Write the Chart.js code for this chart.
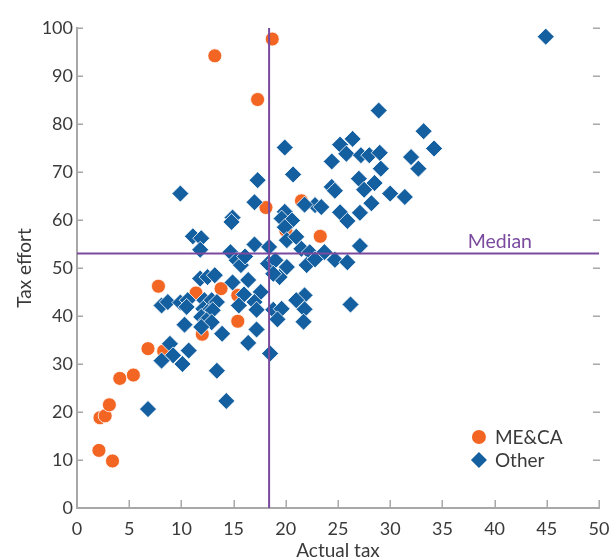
<!DOCTYPE html>
<html>
<head>
<meta charset="utf-8">
<script src="https://cdn.jsdelivr.net/npm/chart.js@4.4.1/dist/chart.umd.min.js"></script>
<style>
  html, body { margin: 0; padding: 0; background: #ffffff; }
  #wrap { width: 609px; height: 558px; }
</style>
</head>
<body>
<div id="wrap"><canvas id="c" width="609" height="558"></canvas></div>
<script>
// Series labels
const seriesNames = ['ME&CA', 'Other'];

// [actual tax, tax effort] for Middle East & Central Asia economies
const mecaPoints = [
  [2.1, 12.0], [3.4, 9.8], [2.2, 18.8], [2.7, 19.2], [3.1, 21.5], [4.1, 27.0],
  [5.4, 27.7], [6.8, 33.2], [8.3, 32.7], [7.8, 46.2], [11.4, 44.8], [12.0, 36.2],
  [13.8, 45.7], [15.4, 44.3], [15.4, 38.9], [13.2, 94.2], [17.3, 85.1], [18.7, 97.7],
  [18.1, 62.6], [20.0, 57.8], [21.5, 64.0], [23.3, 56.6]
];

// [actual tax, tax effort] for all other economies
const otherPoints = [
  [44.9, 98.2],
  [28.9, 82.8], [33.2, 78.5], [34.2, 74.9], [26.4, 76.9], [25.2, 75.7], [25.8, 73.8],
  [24.4, 72.2], [27.2, 73.5], [28.0, 73.5], [29.0, 74.0], [29.1, 70.7], [32.0, 73.1],
  [32.7, 70.7], [27.0, 68.6], [28.5, 67.7], [27.5, 66.3], [24.4, 66.9], [24.7, 66.1],
  [30.0, 65.5], [31.4, 64.8], [28.2, 63.5], [27.1, 61.5], [25.2, 61.6], [25.9, 59.8],
  [27.1, 54.6], [22.8, 63.1], [23.4, 62.7], [21.8, 63.2], [20.7, 69.5], [19.9, 75.1],
  [17.3, 68.3], [17.0, 63.7], [9.9, 65.5], [14.9, 60.5], [14.8, 59.6], [11.1, 56.6],
  [11.9, 56.2], [11.8, 53.8], [17.0, 54.9], [19.9, 61.7], [19.6, 60.3], [20.6, 59.9],
  [19.9, 58.5], [20.1, 55.8], [21.0, 56.5], [18.4, 54.4], [21.5, 54.0], [22.3, 53.3],
  [23.7, 53.3], [24.7, 51.7], [25.9, 51.2], [22.0, 50.6], [22.8, 51.8], [26.2, 42.4],
  [21.8, 44.3], [21.0, 43.3], [21.8, 41.4], [21.7, 38.8], [14.7, 53.3], [15.3, 51.6],
  [15.7, 50.6], [16.1, 52.4], [18.3, 50.9], [19.0, 51.6], [20.1, 50.2], [19.4, 48.1],
  [18.8, 48.8], [11.8, 47.8], [12.5, 48.1], [13.2, 48.5], [14.9, 47.0], [16.4, 47.5],
  [16.0, 44.5], [17.6, 45.0], [17.0, 42.9], [17.2, 41.3], [15.5, 42.2], [8.1, 42.2],
  [8.7, 42.9], [9.9, 42.8], [10.6, 43.3], [10.5, 41.9], [12.2, 43.3], [12.9, 43.3],
  [13.4, 42.9], [12.1, 41.5], [12.5, 40.8], [13.0, 41.2], [11.9, 39.8], [12.4, 39.1],
  [12.9, 38.7], [11.9, 37.7], [10.3, 38.2], [13.9, 36.3], [17.2, 37.2], [16.4, 34.4],
  [18.5, 32.2], [8.9, 34.2], [9.2, 31.8], [8.1, 30.7], [10.1, 30.0], [10.7, 32.8],
  [13.4, 28.6], [6.8, 20.6], [14.3, 22.3], [18.8, 41.3], [19.6, 41.5], [19.2, 39.3]
];

// Median reference lines
const medianActual = 18.4;
const medianEffort = 53.0;
const medianLabel = 'Median';

// Axis ranges and steps
const xRange = [0, 50], xStep = 5;
const yRange = [0, 100], yStep = 10;
const xTitle = 'Actual tax';
const yTitle = 'Tax effort';

const FONT = 'Lato, "Noto Sans", sans-serif';
const TEXT = '#3a3a3a';
const AXIS = '#a8a8a8';
const ORANGE = '#f26522';
const BLUE = '#135f9f';
const PURPLE = '#7a4a9f';

const toXY = arr => arr.map(p => ({ x: p[0], y: p[1] }));

// Inward tick marks on left, bottom and right edges
const innerTicks = {
  id: 'innerTicks',
  beforeDatasetsDraw(chart) {
    const { ctx, scales: { x, y }, chartArea } = chart;
    ctx.save();
    ctx.strokeStyle = AXIS;
    ctx.lineWidth = 1.5;
    ctx.beginPath();
    for (let v = yRange[0]; v <= yRange[1]; v += yStep) {
      const py = Math.round(y.getPixelForValue(v)) + 0.25;
      ctx.moveTo(chartArea.left, py); ctx.lineTo(chartArea.left + 6, py);
      ctx.moveTo(chartArea.right + 1, py); ctx.lineTo(chartArea.right - 6, py);
    }
    for (let v = xRange[0]; v <= xRange[1]; v += xStep) {
      const px = Math.round(x.getPixelForValue(v)) + 0.25;
      ctx.moveTo(px, chartArea.bottom); ctx.lineTo(px, chartArea.bottom - 8);
    }
    ctx.stroke();
    ctx.restore();
  }
};

// Median caption and legend box
const annotations = {
  id: 'annotations',
  afterDraw(chart) {
    const { ctx, scales: { x, y } } = chart;
    ctx.save();
    ctx.font = '19.5px ' + FONT;
    ctx.fillStyle = PURPLE;
    ctx.textAlign = 'center';
    ctx.textBaseline = 'alphabetic';
    ctx.fillText(medianLabel, x.getPixelForValue(40.5), y.getPixelForValue(medianEffort) - 6);

    // legend
    const lx = x.getPixelForValue(38.5);
    const rows = [y.getPixelForValue(14.8), y.getPixelForValue(10.0)];
    const ds = chart.data.datasets;
    ctx.textAlign = 'left';
    ctx.textBaseline = 'middle';
    ctx.font = '19px ' + FONT;
    // ME&CA
    ctx.beginPath();
    ctx.arc(lx, rows[0], 7, 0, Math.PI * 2);
    ctx.fillStyle = ds[0].backgroundColor;
    ctx.fill();
    ctx.fillStyle = TEXT;
    ctx.fillText(ds[0].label, lx + 16, rows[0] + 1);
    // Other
    const r = 8;
    ctx.beginPath();
    ctx.moveTo(lx - r, rows[1]); ctx.lineTo(lx, rows[1] - r);
    ctx.lineTo(lx + r, rows[1]); ctx.lineTo(lx, rows[1] + r);
    ctx.closePath();
    ctx.fillStyle = ds[1].backgroundColor;
    ctx.fill();
    ctx.fillStyle = TEXT;
    ctx.fillText(ds[1].label, lx + 16, rows[1] + 1);
    ctx.restore();
  }
};

new Chart(document.getElementById('c'), {
  type: 'scatter',
  data: {
    datasets: [
      {
        label: seriesNames[0], data: toXY(mecaPoints), order: 2,
        pointStyle: 'circle', pointRadius: 7, pointHoverRadius: 7,
        backgroundColor: ORANGE, borderColor: '#ffffff', borderWidth: 0.8
      },
      {
        label: seriesNames[1], data: toXY(otherPoints), order: 1,
        pointStyle: 'rectRot', pointRadius: 8.5, pointHoverRadius: 8.5,
        backgroundColor: BLUE, borderColor: '#ffffff', borderWidth: 0.8
      },
      {
        type: 'line', label: 'medianX', order: 0,
        data: [{ x: medianActual, y: yRange[0] }, { x: medianActual, y: yRange[1] }],
        borderColor: PURPLE, borderWidth: 2, pointRadius: 0, fill: false
      },
      {
        type: 'line', label: 'medianY', order: 0,
        data: [{ x: xRange[0], y: medianEffort }, { x: xRange[1], y: medianEffort }],
        borderColor: PURPLE, borderWidth: 2, pointRadius: 0, fill: false
      }
    ]
  },
  options: {
    responsive: false,
    animation: false,
    devicePixelRatio: 1,
    layout: { padding: { top: 28, right: 0, left: 0, bottom: 0 } },
    plugins: { legend: { display: false }, tooltip: { enabled: false } },
    scales: {
      x: {
        type: 'linear', min: xRange[0], max: xRange[1],
        ticks: { stepSize: xStep, color: TEXT, font: { family: FONT, size: 18 }, padding: 10, maxRotation: 0 },
        grid: { display: true, drawOnChartArea: false, drawTicks: false },
        border: { display: true, color: AXIS, width: 2 },
        title: { display: true, text: xTitle, color: TEXT, font: { family: FONT, size: 19 }, padding: { top: 0, bottom: -4 } },
        afterFit(s) { s.height = 50; s.paddingLeft = 0; s.paddingRight = 10; }
      },
      y: {
        type: 'linear', min: yRange[0], max: yRange[1],
        ticks: { stepSize: yStep, color: TEXT, font: { family: FONT, size: 18 }, padding: 4 },
        grid: { display: true, drawOnChartArea: false, drawTicks: false },
        border: { display: true, color: AXIS, width: 2 },
        title: { display: true, text: yTitle, color: TEXT, font: { family: FONT, size: 19 }, padding: { top: 13, bottom: 0 } },
        afterFit(s) { s.width = 77; }
      }
    }
  },
  plugins: [innerTicks, annotations]
});
</script>
</body>
</html>
